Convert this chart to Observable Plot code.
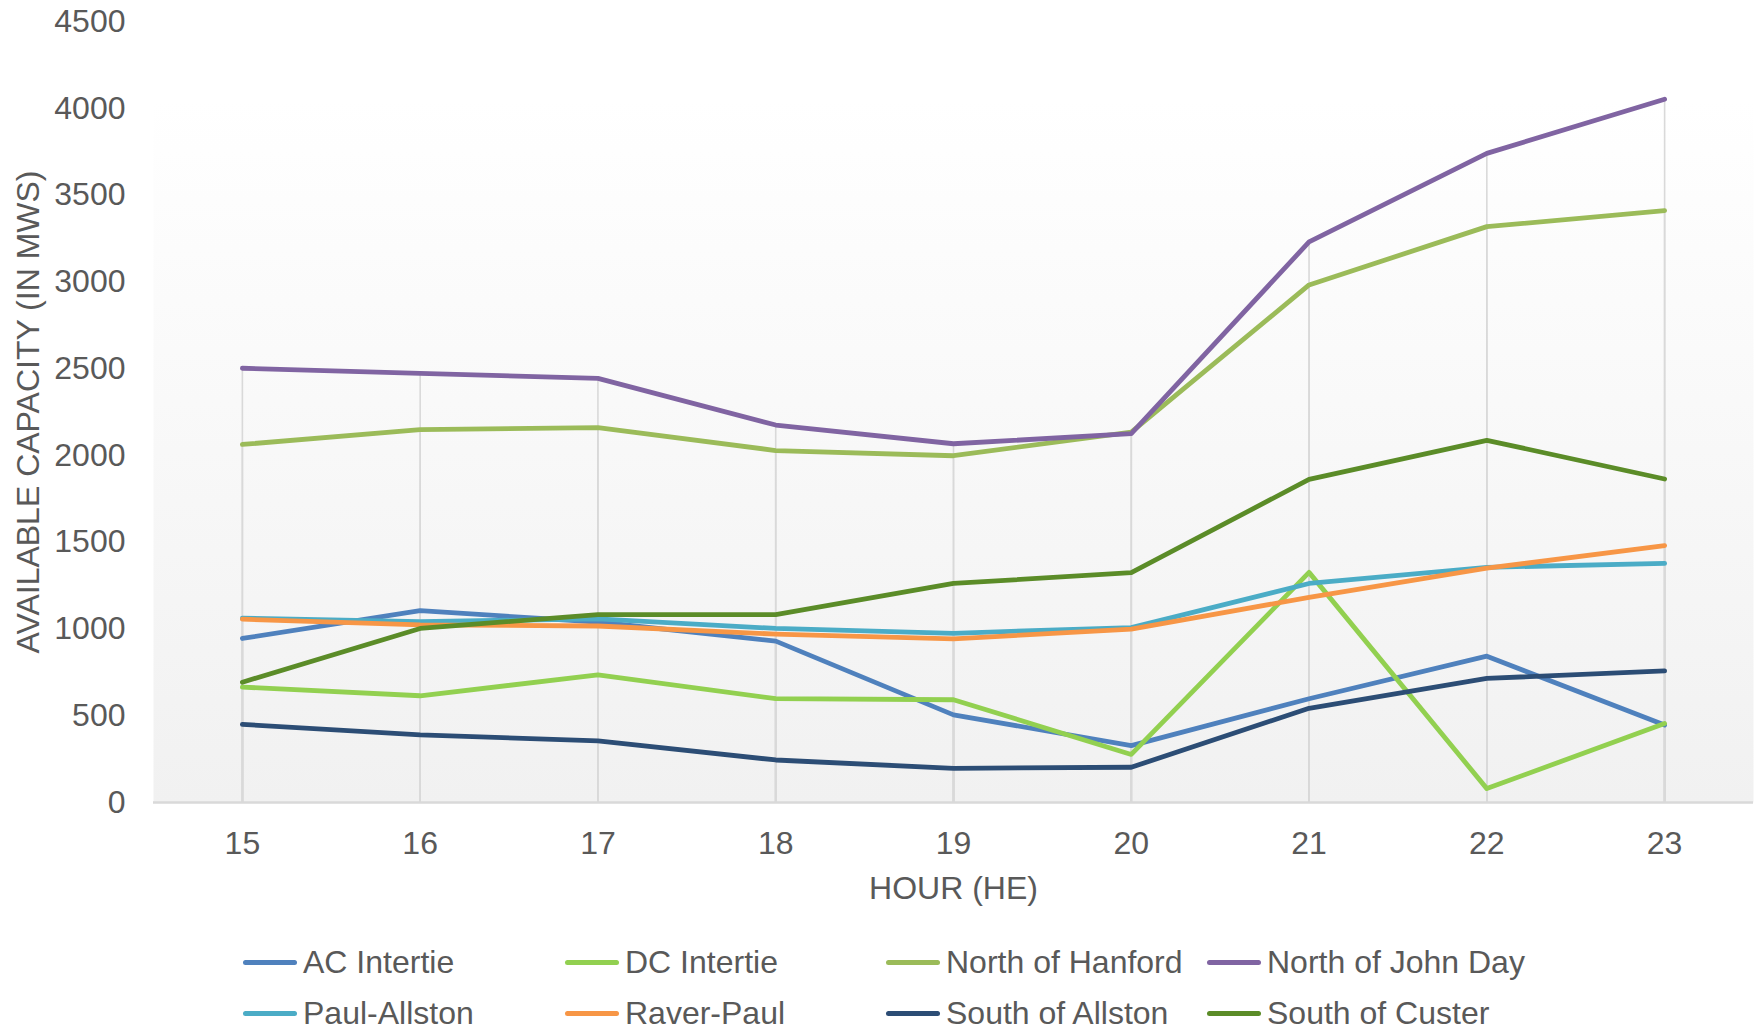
<!DOCTYPE html>
<html>
<head>
<meta charset="utf-8">
<script src="https://cdn.jsdelivr.net/npm/d3@7"></script>
<script src="https://cdn.jsdelivr.net/npm/@observablehq/plot@0.6"></script>
<style>
  html, body { margin: 0; padding: 0; background: #ffffff; }
  body { width: 1758px; height: 1028px; overflow: hidden; font-family: "Liberation Sans", Arial, sans-serif; }
  #chart svg { display: block; }
  #legend { position: relative; width: 1758px; height: 108px; color: #595959; font-size: 32px; }
  .item { position: absolute; display: flex; align-items: center; white-space: nowrap; height: 40px; line-height: 40px; }
  .sw { width: 54px; height: 5px; border-radius: 3px; margin-right: 6px; }
</style>
</head>
<body>
<div id="chart"></div>
<div id="legend"></div>
<script>
const hours = [15, 16, 17, 18, 19, 20, 21, 22, 23];
const seriesNames = ["AC Intertie", "DC Intertie", "North of Hanford", "North of John Day",
                     "Paul-Allston", "Raver-Paul", "South of Allston", "South of Custer"];
const seriesColors = ["#4f81bd", "#92d050", "#9bbb59", "#8064a2",
                      "#4bacc6", "#f79646", "#2c4d75", "#5b8c28"];
const acIntertie     = [945, 1105, 1040, 930, 505, 328, 598, 843, 446];
const dcIntertie     = [665, 615, 735, 598, 592, 277, 1326, 80, 455];
const northHanford   = [2063, 2149, 2160, 2028, 1998, 2134, 2982, 3318, 3410];
const northJohnDay   = [2502, 2472, 2444, 2175, 2067, 2125, 3230, 3740, 4052];
const paulAllston    = [1062, 1042, 1058, 1003, 975, 1008, 1262, 1355, 1378];
const raverPaul      = [1056, 1024, 1017, 970, 943, 999, 1182, 1350, 1480];
const southAllston   = [450, 390, 355, 245, 197, 203, 543, 715, 758];
const southCuster    = [693, 1003, 1083, 1083, 1262, 1324, 1862, 2087, 1864];
const yTicks = [0, 500, 1000, 1500, 2000, 2500, 3000, 3500, 4000, 4500];
const yTitle = "AVAILABLE CAPACITY (IN MWS)";
const xTitle = "HOUR (HE)";

const seriesValues = [acIntertie, dcIntertie, northHanford, northJohnDay,
                      paulAllston, raverPaul, southAllston, southCuster];
const data = [];
seriesNames.forEach((name, i) => {
  hours.forEach((h, j) => data.push({series: name, hour: h, value: seriesValues[i][j]}));
});

const chart = Plot.plot({
  width: 1758,
  height: 920,
  marginLeft: 153,
  marginRight: 5,
  marginTop: 21,
  marginBottom: 118,
  style: {fontFamily: "'Liberation Sans', Arial, sans-serif", fontSize: "32px", color: "#595959", background: "transparent"},
  x: {domain: [14.5, 23.5], axis: null},
  y: {domain: [0, 4500], axis: null},
  color: {domain: seriesNames, range: seriesColors},
  marks: [
    Plot.frame({fill: "#f2f2f2", stroke: "none"}),
    Plot.ruleX(data, {x: "hour", y1: 0, y2: "value", stroke: "#d9d9d9", strokeWidth: 1.6}),
    Plot.ruleY([0], {stroke: "#d9d9d9", strokeWidth: 2.5}),
    Plot.axisY({ticks: yTicks, tickSize: 0, tickPadding: 28, label: null, fontSize: 32, tickFormat: d => String(d)}),
    Plot.axisX({ticks: hours, tickSize: 0, tickPadding: 29, label: null, fontSize: 32, tickFormat: d => String(d)}),
    Plot.line(data, {x: "hour", y: "value", z: "series", stroke: "series",
                     strokeWidth: 4.8, strokeLinecap: "round", strokeLinejoin: "round"}),
    Plot.text([yTitle], {frameAnchor: "left", dx: -125, rotate: -90, textAnchor: "middle", lineAnchor: "middle", fontSize: 32, fill: "#595959"}),
    Plot.text([xTitle], {frameAnchor: "bottom", dy: 86, textAnchor: "middle", lineAnchor: "middle", fontSize: 32, fill: "#595959"})
  ]
});

// vertical gradient for the plot area background
const ns = "http://www.w3.org/2000/svg";
const defs = document.createElementNS(ns, "defs");
defs.innerHTML = '<linearGradient id="bgGrad" x1="0" y1="0" x2="0" y2="1">' +
  '<stop offset="0" stop-color="#ffffff"/>' +
  '<stop offset="0.1" stop-color="#ffffff"/>' +
  '<stop offset="1" stop-color="#f1f1f1"/></linearGradient>';
chart.insertBefore(defs, chart.firstChild);
const frameEl = chart.querySelector('[aria-label="frame"]');
if (frameEl) {
  frameEl.setAttribute("fill", "url(#bgGrad)");
  frameEl.querySelectorAll("rect").forEach(r => r.setAttribute("fill", "url(#bgGrad)"));
}
document.getElementById("chart").appendChild(chart);

// legend
const legend = document.getElementById("legend");
const colX = [243, 565, 886, 1207];
const rowY = [22, 73];
seriesNames.forEach((name, i) => {
  const item = document.createElement("div");
  item.className = "item";
  item.style.left = colX[i % 4] + "px";
  item.style.top = rowY[Math.floor(i / 4)] + "px";
  const sw = document.createElement("div");
  sw.className = "sw";
  sw.style.background = seriesColors[i];
  const label = document.createElement("span");
  label.textContent = name;
  item.appendChild(sw);
  item.appendChild(label);
  legend.appendChild(item);
});
</script>
</body>
</html>
